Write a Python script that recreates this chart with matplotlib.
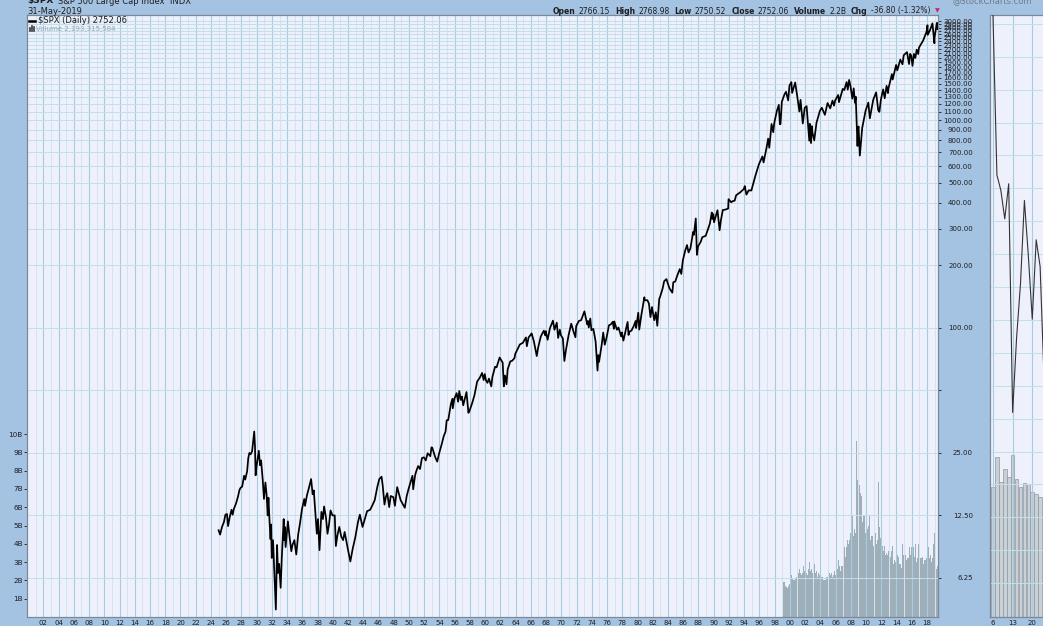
import matplotlib
matplotlib.use("Agg")
import matplotlib.pyplot as plt
from matplotlib.ticker import FixedLocator, FuncFormatter, NullFormatter
from matplotlib.lines import Line2D
import numpy as np

# ---- data --------------------------------------------------------------
# $SPX closes: decimal year, price
spx_year = [
    1925.00, 1925.20, 1925.45, 1925.70, 1925.90, 1926.10, 1926.25, 1926.45, 1926.70, 1926.85,
    1927.00, 1927.30, 1927.55, 1927.75, 1927.90, 1928.10, 1928.35, 1928.50, 1928.75, 1928.90,
    1929.05, 1929.20, 1929.40, 1929.55, 1929.68, 1929.78, 1929.86, 1930.00, 1930.28, 1930.45,
    1930.58, 1930.80, 1930.96, 1931.15, 1931.30, 1931.45, 1931.55, 1931.70, 1931.82, 1931.90,
    1931.98, 1932.15, 1932.35, 1932.52, 1932.68, 1932.80, 1932.95, 1933.15, 1933.30, 1933.55,
    1933.60, 1933.70, 1933.80, 1933.95, 1934.10, 1934.30, 1934.55, 1934.70, 1934.95, 1935.20,
    1935.45, 1935.70, 1935.95, 1936.25, 1936.35, 1936.60, 1936.85, 1937.15, 1937.35, 1937.50,
    1937.75, 1937.90, 1938.05, 1938.25, 1938.50, 1938.70, 1938.85, 1939.10, 1939.30, 1939.50,
    1939.70, 1939.95, 1940.25, 1940.40, 1940.60, 1940.85, 1941.10, 1941.35, 1941.55, 1941.95,
    1942.30, 1942.60, 1942.95, 1943.30, 1943.55, 1943.90, 1944.20, 1944.50, 1944.90, 1945.20,
    1945.50, 1945.85, 1946.10, 1946.40, 1946.55, 1946.78, 1946.95, 1947.15, 1947.40, 1947.60,
    1947.95, 1948.15, 1948.45, 1948.75, 1948.90, 1949.45, 1949.70, 1949.95, 1950.45, 1950.55,
    1950.80, 1950.95, 1951.20, 1951.45, 1951.70, 1951.95, 1952.20, 1952.45, 1952.80, 1952.95,
    1953.05, 1953.45, 1953.70, 1953.95, 1954.30, 1954.55, 1954.80, 1954.95, 1955.15, 1955.50,
    1955.70, 1955.75, 1955.95, 1956.25, 1956.45, 1956.60, 1956.80, 1956.95, 1957.12, 1957.55,
    1957.80, 1957.95, 1958.30, 1958.60, 1958.95, 1959.30, 1959.60, 1959.80, 1959.95, 1960.10,
    1960.30, 1960.50, 1960.80, 1960.95, 1961.30, 1961.50, 1961.90, 1962.00, 1962.30, 1962.45,
    1962.60, 1962.80, 1962.95, 1963.30, 1963.55, 1963.85, 1963.95, 1964.30, 1964.55, 1964.95,
    1965.35, 1965.47, 1965.70, 1965.95, 1966.10, 1966.40, 1966.77, 1966.95, 1967.30, 1967.70,
    1967.90, 1967.95, 1968.20, 1968.50, 1968.90, 1969.10, 1969.40, 1969.58, 1969.80, 1969.95,
    1970.20, 1970.40, 1970.60, 1970.95, 1971.30, 1971.60, 1971.85, 1971.95, 1972.30, 1972.60,
    1972.95, 1973.03, 1973.40, 1973.50, 1973.60, 1973.80, 1973.95, 1974.20, 1974.50, 1974.75,
    1974.85, 1974.95, 1975.30, 1975.50, 1975.70, 1975.95, 1976.25, 1976.50, 1976.75, 1976.90,
    1976.95, 1977.30, 1977.50, 1977.85, 1977.95, 1978.15, 1978.70, 1978.82, 1978.95, 1979.20,
    1979.50, 1979.75, 1979.82, 1979.95, 1980.10, 1980.23, 1980.50, 1980.90, 1980.95, 1981.30,
    1981.50, 1981.70, 1981.90, 1981.95, 1982.20, 1982.40, 1982.60, 1982.85, 1982.95, 1983.30,
    1983.50, 1983.80, 1983.95, 1984.20, 1984.57, 1984.70, 1984.95, 1985.25, 1985.55, 1985.75,
    1985.95, 1986.25, 1986.50, 1986.70, 1986.95, 1987.30, 1987.40, 1987.65, 1987.80, 1987.95,
    1988.30, 1988.50, 1988.95, 1989.50, 1989.75, 1989.82, 1989.95, 1990.05, 1990.50, 1990.78,
    1990.95, 1991.20, 1991.50, 1991.90, 1991.95, 1992.30, 1992.50, 1992.75, 1992.95, 1993.50,
    1993.95, 1994.08, 1994.30, 1994.60, 1994.95, 1995.50, 1995.95, 1996.40, 1996.55, 1996.95,
    1997.15, 1997.30, 1997.50, 1997.60, 1997.82, 1997.95, 1998.30, 1998.55, 1998.69, 1998.77,
    1998.95, 1999.30, 1999.50, 1999.78, 1999.95, 2000.20, 2000.30, 2000.70, 2000.95, 2001.25,
    2001.40, 2001.70, 2001.95, 2002.20, 2002.55, 2002.63, 2002.78, 2002.90, 2002.95, 2003.20,
    2003.50, 2003.95, 2004.20, 2004.60, 2004.95, 2005.30, 2005.60, 2005.80, 2005.95, 2006.35,
    2006.45, 2006.95, 2007.15, 2007.45, 2007.60, 2007.78, 2007.95, 2008.20, 2008.38, 2008.55,
    2008.65, 2008.88, 2008.95, 2009.02, 2009.19, 2009.50, 2009.95, 2010.30, 2010.50, 2010.95,
    2011.33, 2011.60, 2011.76, 2011.95, 2012.25, 2012.45, 2012.70, 2012.88, 2012.95, 2013.40,
    2013.50, 2013.95, 2014.10, 2014.50, 2014.79, 2014.95, 2015.38, 2015.65, 2015.80, 2015.95,
    2016.10, 2016.30, 2016.48, 2016.65, 2016.85, 2016.95, 2017.50, 2017.95, 2018.07, 2018.10,
    2018.40, 2018.72, 2018.98, 2019.00, 2019.30, 2019.36, 2019.41,
]
spx_close = [
    10.6, 10.1, 11.0, 11.6, 12.6, 12.7, 11.1, 12.2, 13.3, 12.6,
    13.4, 14.3, 15.4, 16.6, 17.0, 17.2, 19.4, 18.6, 20.4, 23.6,
    25.0, 24.6, 25.4, 28.5, 31.7, 27.0, 19.5, 21.7, 25.6, 21.8,
    23.0, 18.5, 15.0, 18.0, 15.8, 12.5, 15.2, 11.5, 9.6, 11.3,
    7.8, 9.5, 6.2, 4.4, 9.0, 6.6, 7.3, 5.6, 7.8, 12.0,
    9.5, 11.0, 8.8, 10.1, 11.7, 10.0, 8.4, 9.0, 9.5, 8.1,
    10.1, 11.5, 13.4, 15.0, 13.9, 15.6, 16.9, 18.7, 15.8, 16.5,
    12.3, 10.2, 12.0, 8.5, 13.0, 12.0, 13.8, 12.2, 10.2, 11.3,
    13.2, 12.5, 12.5, 8.9, 10.0, 11.0, 9.9, 9.5, 10.4, 8.7,
    7.5, 8.6, 9.8, 11.6, 12.6, 11.0, 12.0, 13.1, 13.3, 14.0,
    14.8, 17.2, 18.7, 19.2, 17.4, 14.1, 15.3, 16.0, 13.7, 15.5,
    15.3, 13.9, 17.1, 15.5, 14.8, 13.6, 15.5, 16.8, 19.4, 16.7,
    19.5, 20.4, 21.6, 20.9, 23.6, 23.8, 23.0, 24.9, 24.1, 26.6,
    26.5, 23.8, 22.7, 24.8, 27.6, 30.0, 31.7, 35.9, 36.0, 43.0,
    45.6, 41.0, 45.5, 48.5, 44.1, 49.7, 45.0, 46.7, 42.4, 49.1,
    39.0, 39.9, 43.5, 47.5, 55.2, 57.6, 60.7, 56.1, 59.9, 56.0,
    54.4, 57.0, 52.3, 58.1, 65.0, 64.6, 72.0, 71.0, 68.0, 52.3,
    59.0, 53.5, 63.1, 69.0, 69.5, 71.6, 75.0, 79.7, 83.2, 84.8,
    90.0, 81.6, 90.0, 92.4, 94.1, 86.0, 73.2, 80.3, 90.9, 97.0,
    92.0, 96.5, 87.7, 99.6, 108.4, 98.0, 106.0, 89.5, 98.0, 92.1,
    89.0, 69.3, 78.0, 92.2, 104.8, 96.0, 90.2, 102.1, 108.0, 109.0,
    118.1, 120.2, 104.0, 108.0, 100.5, 111.0, 97.5, 99.0, 86.0, 62.3,
    74.0, 68.6, 83.0, 95.0, 83.0, 90.2, 103.0, 104.0, 107.0, 99.0,
    107.5, 98.0, 100.5, 91.0, 95.1, 86.9, 106.9, 92.5, 96.1, 97.0,
    102.0, 108.0, 99.9, 107.9, 118.4, 98.2, 115.0, 140.5, 135.8, 136.0,
    131.0, 112.8, 126.0, 122.6, 109.0, 119.0, 102.4, 138.0, 140.6, 155.0,
    168.0, 172.0, 164.9, 155.0, 147.8, 166.0, 167.2, 180.0, 192.0, 182.0,
    211.3, 235.0, 250.8, 231.0, 242.2, 290.0, 281.0, 336.8, 224.8, 247.1,
    260.0, 273.5, 277.7, 317.9, 359.8, 335.0, 353.4, 322.9, 368.9, 295.5,
    330.2, 370.0, 371.2, 376.0, 417.1, 403.0, 408.1, 410.0, 435.7, 450.5,
    466.5, 482.0, 438.9, 460.0, 459.3, 544.8, 615.9, 670.0, 626.9, 740.7,
    816.0, 737.7, 885.1, 960.0, 876.9, 970.4, 1111.8, 1186.8, 957.3, 959.4,
    1229.2, 1335.0, 1372.7, 1247.4, 1469.3, 1527.5, 1356.0, 1520.8, 1320.3, 1103.0,
    1255.0, 965.8, 1148.1, 1170.0, 797.7, 962.0, 776.8, 938.0, 879.8, 800.7,
    974.5, 1111.9, 1150.0, 1063.0, 1211.9, 1142.0, 1245.0, 1177.0, 1248.3, 1325.0,
    1223.7, 1418.3, 1399.0, 1530.0, 1406.0, 1565.2, 1468.4, 1273.0, 1426.0, 1214.0,
    1300.0, 752.4, 903.3, 934.0, 676.5, 919.3, 1115.1, 1217.3, 1022.6, 1257.6,
    1363.6, 1119.0, 1099.2, 1257.6, 1408.5, 1278.0, 1465.8, 1353.0, 1426.2, 1669.0,
    1573.0, 1848.4, 1741.0, 1960.2, 1862.5, 2058.9, 2130.8, 1867.6, 2090.0, 2043.9,
    1829.1, 2090.0, 2000.0, 2190.0, 2085.0, 2238.8, 2423.4, 2673.6, 2872.9, 2581.0,
    2720.0, 2930.8, 2351.1, 2506.9, 2945.8, 2945.6, 2752.1,
]

# monthly volume, billions, Jan 1999 .. May 2019
vol_first_year = 1999
vol_billions = [
    2.1, 1.9, 1.85, 1.9, 1.8, 1.7, 1.65, 1.5, 1.6, 1.7, 1.75, 1.8,
    1.8, 1.95, 2.3, 2.4, 2.1, 2.0, 1.9, 2.0, 2.1, 2.3, 2.2, 2.4,
    2.5, 2.4, 2.7, 2.6, 2.4, 2.5, 2.3, 2.4, 2.9, 2.8, 2.6, 2.5,
    2.6, 2.5, 2.4, 2.3, 2.4, 2.6, 3.0, 2.7, 2.5, 2.8, 2.6, 2.4,
    2.5, 2.6, 2.9, 2.5, 2.4, 2.5, 2.3, 2.2, 2.4, 2.4, 2.3, 2.2,
    2.3, 2.2, 2.3, 2.2, 2.1, 2.0, 2.0, 1.9, 2.0, 2.2, 2.2, 2.2,
    2.3, 2.3, 2.4, 2.5, 2.3, 2.4, 2.2, 2.2, 2.3, 2.6, 2.5, 2.3,
    2.6, 2.6, 2.8, 2.6, 3.1, 3.2, 2.8, 2.5, 2.7, 2.8, 2.8, 2.6,
    3.0, 3.2, 3.8, 3.3, 3.4, 3.8, 4.2, 5.0, 4.0, 4.2, 5.2, 4.6,
    5.6, 5.0, 5.6, 4.7, 4.4, 4.8, 5.4, 4.6, 6.5, 9.6, 7.5, 6.3,
    7.0, 7.2, 8.0, 6.8, 6.6, 6.0, 5.2, 5.6, 5.6, 5.6, 4.8, 4.6,
    4.9, 5.2, 4.8, 5.0, 8.2, 5.6, 4.6, 4.2, 4.4, 4.2, 4.4, 3.9,
    4.4, 4.2, 4.6, 3.9, 4.0, 4.5, 4.2, 7.4, 5.2, 4.9, 4.3, 4.0,
    3.9, 3.9, 3.8, 3.6, 4.0, 3.9, 3.4, 3.0, 3.5, 3.4, 3.5, 3.6,
    3.5, 3.4, 3.3, 3.4, 3.6, 3.9, 3.2, 2.9, 3.1, 3.3, 3.0, 3.1,
    3.3, 3.4, 3.4, 3.3, 2.9, 2.8, 2.9, 2.7, 3.0, 4.0, 3.0, 3.4,
    3.4, 3.3, 3.4, 3.1, 3.0, 3.2, 3.2, 4.8, 3.8, 3.6, 3.4, 3.8,
    4.5, 4.4, 3.8, 3.4, 3.3, 4.0, 3.3, 3.0, 3.4, 3.2, 4.0, 3.4,
    3.2, 3.2, 3.4, 3.2, 3.3, 3.4, 2.9, 3.0, 3.1, 3.1, 3.3, 3.2,
    3.5, 4.6, 3.8, 3.5, 3.2, 3.4, 3.1, 3.0, 3.2, 4.3, 4.0, 4.6,
    3.0, 2.9, 2.8, 2.6, 2.8,
]

price_ticks = [3000, 2900, 2800, 2700, 2600, 2500, 2400, 2300, 2200, 2100, 2000,
               1900, 1800, 1700, 1600, 1500, 1400, 1300, 1200, 1100, 1000,
               900, 800, 700, 600, 500, 400, 300, 200, 100, 25, 12.5, 6.25]
vol_ticks = [1e9, 2e9, 3e9, 4e9, 5e9, 6e9, 7e9, 8e9, 9e9, 10e9]
vol_labels = ["1B", "2B", "3B", "4B", "5B", "6B", "7B", "8B", "9B", "10B"]

# zoom panel: May 2019 daily closes (trading days), volumes for 6 May onwards
may_close = [2923.73, 2917.52, 2945.64, 2932.47, 2884.05, 2879.42, 2870.72, 2881.40,
             2811.87, 2834.41, 2850.96, 2876.32, 2859.53, 2840.23, 2864.36, 2856.27,
             2822.24, 2826.06, 2802.39, 2783.02, 2788.86, 2752.06]
may_first_idx = -3          # 1 May sits three sessions before 6 May
may_vol = [3.74, 4.60, 3.88, 4.25, 4.02, 4.66, 3.97, 3.74, 3.85, 3.82, 3.59, 3.53, 3.45]
may_tick_idx = [0, 5, 10]
may_tick_lbl = ["6", "13", "20"]

# ---- styling ---------------------------------------------------------------
BG = "#a4c2e2"
PANEL = "#eef1fb"
GRID_MAJ = "#a6cce2"
GRID_MIN = "#d2e4f0"
GRID_H = "#c2dfe9"
FRAME = "#7b8899"
VOLC = "#9fafb9"
TXT = "#1e1e1e"

W, H = 1043, 626
fig = plt.figure(figsize=(W / 100, H / 100), dpi=100)
fig.patch.set_facecolor(BG)


def box(x0, y0, x1, y1):
    return [x0 / W, 1 - y1 / H, (x1 - x0) / W, (y1 - y0) / H]


# main panel: volume underneath, price on a log twin
axv = fig.add_axes(box(27, 15, 938, 617))
axv.set_facecolor(PANEL)
ax = axv.twinx()

vx = vol_first_year + (np.arange(len(vol_billions)) + 0.5) / 12
axv.bar(vx, np.array(vol_billions) * 1e9, width=1 / 12, color=VOLC, linewidth=0, zorder=1)
axv.set_ylim(0, 32.9e9)
axv.yaxis.set_major_locator(FixedLocator(vol_ticks))
axv.yaxis.set_major_formatter(FuncFormatter(lambda v, p: vol_labels[vol_ticks.index(v)] if v in vol_ticks else ""))
axv.tick_params(axis="y", length=2, width=0.6, pad=1, labelsize=5.2, colors=TXT)

axv.set_xlim(1899.85, 2019.45)
axv.xaxis.set_major_locator(FixedLocator(np.arange(1902, 2019, 2)))
axv.xaxis.set_minor_locator(FixedLocator(np.arange(1901, 2020, 2)))
axv.xaxis.set_major_formatter(FuncFormatter(lambda v, p: "%02d" % (int(round(v)) % 100)))
axv.xaxis.set_minor_formatter(NullFormatter())
axv.tick_params(axis="x", which="both", length=0, pad=2, labelsize=5, colors=TXT)
axv.grid(axis="x", which="major", color=GRID_MAJ, lw=0.8)
axv.grid(axis="x", which="minor", color=GRID_MIN, lw=0.7)

ax.set_yscale("log")
ax.set_ylim(4.05, 3217)
ax.plot(spx_year, spx_close, color="black", lw=1.25, zorder=3)
ax.yaxis.set_major_locator(FixedLocator(price_ticks))
ax.yaxis.set_major_formatter(FuncFormatter(lambda v, p: "%.2f" % v))
ax.yaxis.set_minor_locator(FixedLocator([50]))
ax.yaxis.set_minor_formatter(NullFormatter())
ax.tick_params(axis="y", which="both", length=2, width=0.6, pad=23, labelsize=5, colors=TXT)
plt.setp(ax.yaxis.get_majorticklabels(), ha="right")
ax.grid(axis="y", which="both", color=GRID_H, lw=0.7)

for a in (axv, ax):
    for s in a.spines.values():
        s.set_color(FRAME)
        s.set_linewidth(0.8)

# zoom panel on the right (runs off the edge of the figure)
pv = fig.add_axes(box(990, 15, 1090, 617))
pv.set_facecolor(PANEL)
pp = pv.twinx()
pv.bar(np.arange(len(may_vol)), may_vol, width=0.92, color="#c9d0d6",
       edgecolor="#8d98a1", linewidth=0.5, zorder=1)
pv.set_ylim(0, 17.3)
pv.set_xlim(-0.76, 24.7)
pv.set_xticks(may_tick_idx)
pv.set_xticklabels(may_tick_lbl)
pv.tick_params(axis="x", length=0, pad=2, labelsize=5, colors=TXT)
pv.tick_params(axis="y", left=False, labelleft=False)
pv.grid(axis="x", color=GRID_MAJ, lw=0.8)
pp.plot(np.arange(len(may_close)) + may_first_idx, may_close, color="#333333", lw=0.8, zorder=3)
pp.set_ylim(2749.7, 2932.7)
pp.set_yticks(np.arange(2760, 2940, 10))
pp.tick_params(axis="y", right=False, labelright=False)
pp.grid(axis="y", color=GRID_H, lw=0.7)
for a in (pv, pp):
    for s in a.spines.values():
        s.set_color(FRAME)
        s.set_linewidth(0.8)

# ---- header text --------------------------------------------------------
fig.canvas.draw()
rend = fig.canvas.get_renderer()

t = fig.text(27 / W, 1 - 1 / H, "$SPX", fontsize=6.5, weight="bold", color=TXT,
             ha="left", va="center", parse_math=False)
x_title = t.get_window_extent(rend).x1 + 5
fig.text(x_title / W, 1 - 1 / H, "S&P 500 Large Cap Index  INDX", fontsize=6, color=TXT,
         ha="left", va="center")
fig.text(27 / W, 1 - 11 / H, "31-May-2019", fontsize=6, color=TXT, ha="left", va="center")
fig.text(1032 / W, 1 - 1 / H, "@StockCharts.com", fontsize=6, color="#6d7c8e",
         ha="right", va="center")

pieces = [("Open", True), ("2766.15", False), ("High", True), ("2768.98", False),
          ("Low", True), ("2750.52", False), ("Close", True), ("2752.06", False),
          ("Volume", True), ("2.2B", False), ("Chg", True), ("-36.80 (-1.32%)", False)]
xp = 553
for txt, bold in pieces:
    t = fig.text(xp / W, 1 - 11 / H, txt, fontsize=5.5, color=TXT, ha="left", va="center",
                 weight="bold" if bold else "normal")
    bb = t.get_window_extent(rend)
    xp += bb.width + (3 if bold else 5)
fig.text(xp / W, 1 - 11 / H, "\u25bc", fontsize=4.5, color="#c8286a", ha="left", va="center")

# legend inside the chart
fig.add_artist(Line2D([29 / W, 35 / W], [1 - 20.5 / H] * 2, color="black", lw=1.8))
fig.text(38 / W, 1 - 20.5 / H, "$SPX (Daily) 2752.06", fontsize=6, color=TXT,
         ha="left", va="center", parse_math=False)
for dx, h in ((29.5, 3), (31.5, 5), (33.5, 4)):
    fig.add_artist(Line2D([dx / W] * 2, [1 - 31 / H, 1 - (31 - h) / H], color="#3c3c3c", lw=1.2))
fig.text(36 / W, 1 - 29 / H, "Volume 2,193,315,584", fontsize=5, color="#9aa6b2",
         ha="left", va="center")

fig.savefig("out.png", dpi=100, facecolor=BG)
